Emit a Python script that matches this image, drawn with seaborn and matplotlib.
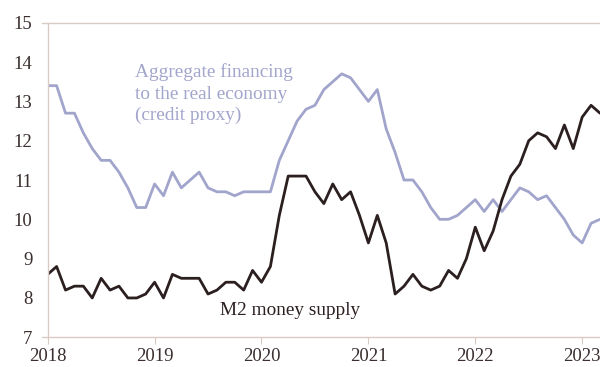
import numpy as np
import pandas as pd
import matplotlib
matplotlib.use("Agg")
import matplotlib.pyplot as plt
import seaborn as sns

# Year-on-year growth, %, monthly from Jan 2018 to Mar 2023
afre = [
    13.4, 13.4, 12.7, 12.7, 12.2, 11.8, 11.5, 11.5, 11.2, 10.8, 10.3, 10.3,
    10.9, 10.6, 11.2, 10.8, 11.0, 11.2, 10.8, 10.7, 10.7, 10.6, 10.7, 10.7,
    10.7, 10.7, 11.5, 12.0, 12.5, 12.8, 12.9, 13.3, 13.5, 13.7, 13.6, 13.3,
    13.0, 13.3, 12.3, 11.7, 11.0, 11.0, 10.7, 10.3, 10.0, 10.0, 10.1, 10.3,
    10.5, 10.2, 10.5, 10.2, 10.5, 10.8, 10.7, 10.5, 10.6, 10.3, 10.0, 9.6,
    9.4, 9.9, 10.0,
]
m2 = [
    8.6, 8.8, 8.2, 8.3, 8.3, 8.0, 8.5, 8.2, 8.3, 8.0, 8.0, 8.1,
    8.4, 8.0, 8.6, 8.5, 8.5, 8.5, 8.1, 8.2, 8.4, 8.4, 8.2, 8.7,
    8.4, 8.8, 10.1, 11.1, 11.1, 11.1, 10.7, 10.4, 10.9, 10.5, 10.7, 10.1,
    9.4, 10.1, 9.4, 8.1, 8.3, 8.6, 8.3, 8.2, 8.3, 8.7, 8.5, 9.0,
    9.8, 9.2, 9.7, 10.5, 11.1, 11.4, 12.0, 12.2, 12.1, 11.8, 12.4, 11.8,
    12.6, 12.9, 12.7,
]
year_labels = ["2018", "2019", "2020", "2021", "2022", "2023"]
y_ticks = [7, 8, 9, 10, 11, 12, 13, 14, 15]

months = np.arange(len(m2))
df = pd.DataFrame({"month": np.concatenate([months, months]),
                   "value": afre + m2,
                   "series": ["afre"] * len(afre) + ["m2"] * len(m2)})

LAVENDER = "#A2A5CB"
DARK = "#2B1F20"
AXIS = "#D9CBC4"
TEXT = "#3A2E2E"

sns.set_theme(style="white")
plt.rcParams["font.family"] = ["Liberation Serif", "DejaVu Serif"]

fig = plt.figure(figsize=(6.0, 3.67), dpi=100)
ax = fig.add_axes([0.0795, 0.081, 0.9205, 0.857])

sns.lineplot(data=df, x="month", y="value", hue="series",
             palette={"afre": LAVENDER, "m2": DARK}, linewidth=2.0,
             legend=False, ax=ax)

ax.set_xlim(0, 62)
ax.set_ylim(7, 15)
ax.set_xlabel("")
ax.set_ylabel("")

ax.set_xticks(np.arange(0, 12 * len(year_labels), 12))
ax.set_xticklabels(year_labels)
ax.set_yticks(y_ticks)
ax.set_yticklabels([str(v) for v in y_ticks])

ax.tick_params(axis="x", length=5, width=0.8, color=AXIS, direction="out",
               pad=3, labelsize=13.5, labelcolor=TEXT, bottom=True)
ax.tick_params(axis="y", length=0, pad=11, labelsize=13.5, labelcolor=TEXT)

for side in ("top", "right", "bottom"):
    ax.spines[side].set_visible(False)
ax.spines["left"].set_color(AXIS)
ax.spines["left"].set_linewidth(1.0)

# Rules at the bottom and top of the scale, reaching slightly past the axis
ax.axhline(7, xmin=-0.011, xmax=1, color=AXIS, lw=1.0, clip_on=False, zorder=0)
ax.axhline(15, xmin=-0.011, xmax=1, color=AXIS, lw=1.0, clip_on=False, zorder=0)

ax.text(9.8, 13.19, "Aggregate financing\nto the real economy\n(credit proxy)",
        color=LAVENDER, fontsize=13.9, ha="left", va="center",
        linespacing=1.32)
ax.text(19.3, 7.69, "M2 money supply", color=DARK, fontsize=13.9,
        ha="left", va="center")

fig.savefig("out.png", dpi=100)
